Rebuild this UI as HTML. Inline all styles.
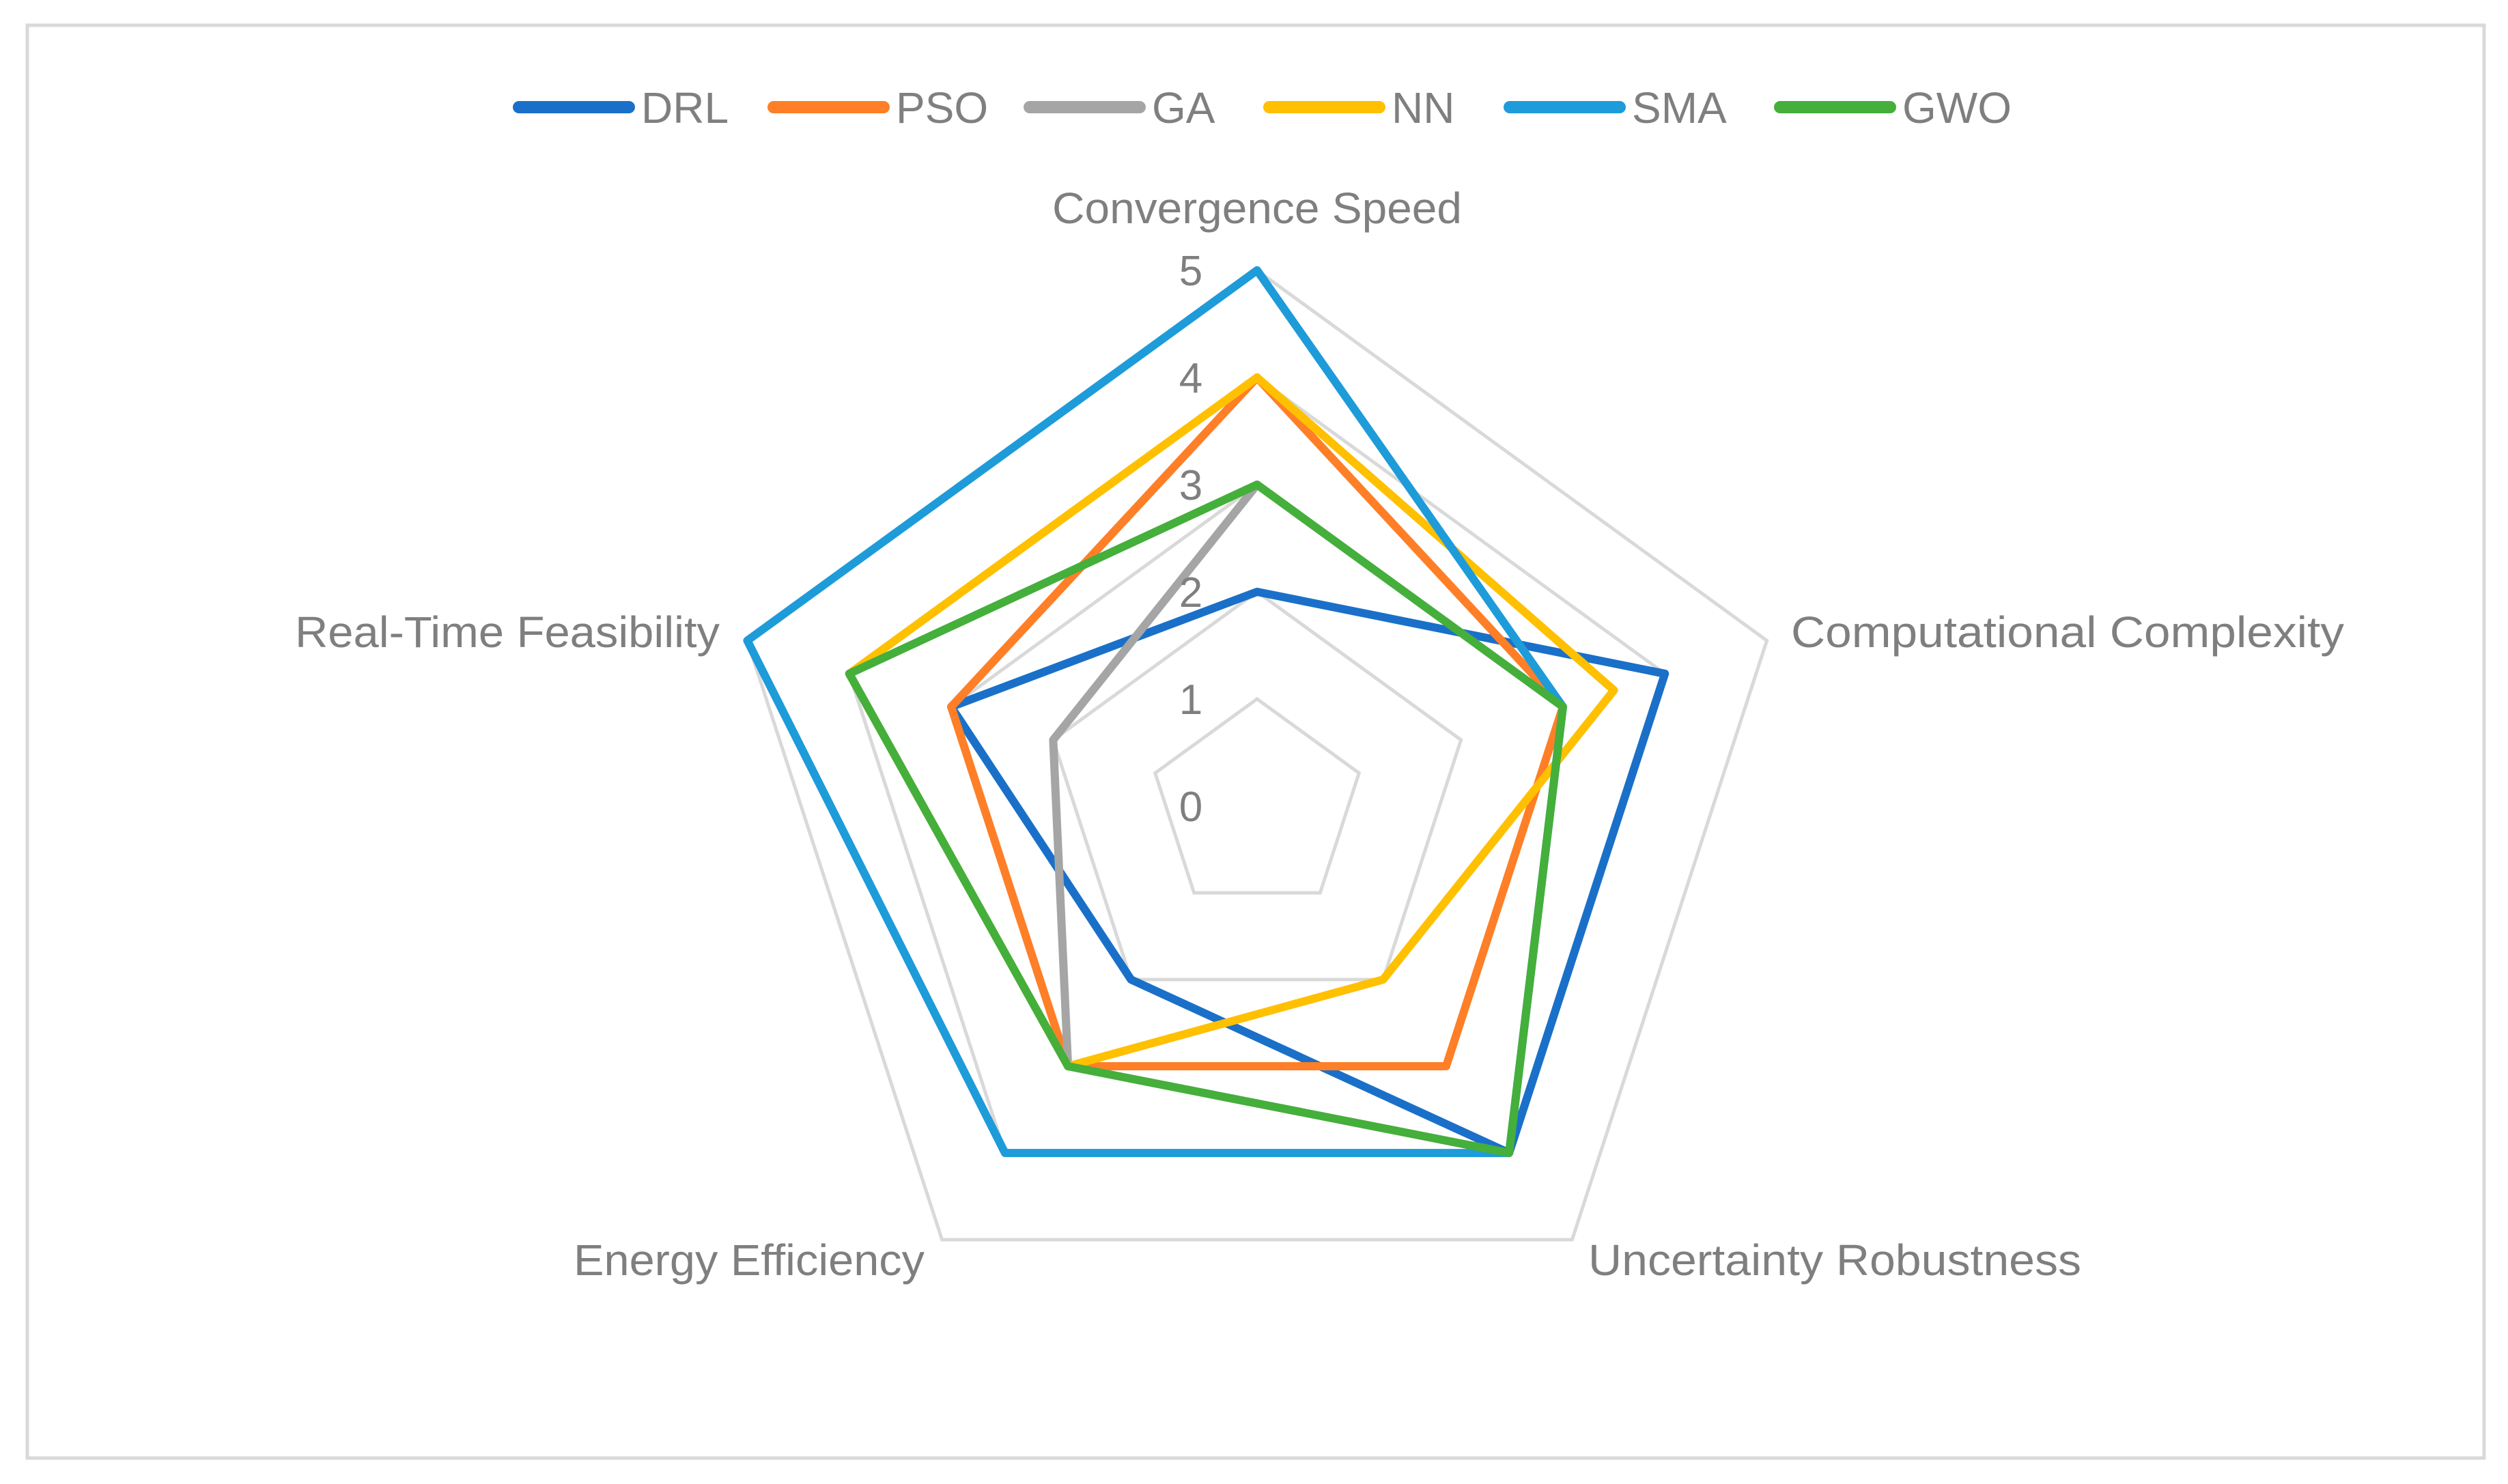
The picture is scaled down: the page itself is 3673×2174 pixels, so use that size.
<!DOCTYPE html>
<html><head><meta charset="utf-8"><style>
html,body{margin:0;padding:0;background:#fff}
svg text{font-family:"Liberation Sans",sans-serif;fill:#7f7f7f}
</style></head><body>
<svg id="chart" width="3673" height="2169" viewBox="0 0 3673 2169" xmlns="http://www.w3.org/2000/svg">
<rect x="40" y="37" width="3598" height="2099" fill="#fff" stroke="#d9d9d9" stroke-width="5"/>
<g id="grid"></g>
<g id="series"></g>
<g id="labels"></g>
<g id="legend"></g>
</svg>
<script>
const categories = ["Convergence Speed","Computational Complexity","Uncertainty Robustness","Energy Efficiency","Real-Time Feasibility"];
const seriesNames = ["DRL","PSO","GA","NN","SMA","GWO"];
const drlValues = [2,4,4,2,3];
const psoValues = [4,3,3,3,3];
const gaValues  = [3,3,4,3,2];
const nnValues  = [4,3.5,2,3,4];
const smaValues = [5,3,4,4,5];
const gwoValues = [3,3,4,3,4];
const tickLabels = ["0","1","2","3","4","5"];

const seriesValues = [drlValues,psoValues,gaValues,nnValues,smaValues,gwoValues];
const colors = ["#1a70c8","#fe7f27","#a5a5a5","#ffc000","#1e9bd9","#44af3b"];
const NS="http://www.w3.org/2000/svg";
const cx=1841, cy=1181, unit=157, maxV=5;
function ang(i){return -Math.PI/2 + i*2*Math.PI/categories.length;}
function pt(i,v){return [cx+Math.cos(ang(i))*v*unit, cy+Math.sin(ang(i))*v*unit];}
function mk(tag,attrs,parent){const e=document.createElementNS(NS,tag);for(const k in attrs)e.setAttribute(k,attrs[k]);parent.appendChild(e);return e;}

const grid=document.getElementById('grid');
for(let l=1;l<=maxV;l++){
  const pts=categories.map((c,i)=>pt(i,l).join(',')).join(' ');
  const p=mk('polygon',{points:pts,fill:'none',stroke:'#d9d9d9','stroke-width':5},grid);
  
  
}
const labels=document.getElementById('labels');
tickLabels.forEach((t,l)=>{
  const e=mk('text',{x:cx-97,y:cy-l*unit+22,'font-size':62,'text-anchor':'middle'},labels);
  e.textContent=t;
  
  
});
const catPos=[[1841,327,'middle',600],[2623,948,'start',810],[2326,1868,'start',722],[1354,1868,'end',514],[1054,948,'end',622]];
categories.forEach((c,i)=>{
  const p=catPos[i];
  const e=mk('text',{x:p[0],y:p[1],'font-size':64,'text-anchor':p[2],textLength:p[3],lengthAdjust:'spacingAndGlyphs'},labels);
  e.textContent=c;
  
  
});
const sg=document.getElementById('series');
seriesValues.forEach((vals,s)=>{
  const pts=vals.map((v,i)=>pt(i,v).join(',')).join(' ');
  const e=mk('polygon',{points:pts,fill:'none',stroke:colors[s],'stroke-width':12,'stroke-linejoin':'round'},sg);
  
  
});
const lg=document.getElementById('legend');
const legX=[751,1124,1499,1850,2202,2598];
seriesNames.forEach((n,s)=>{
  const g=mk('g',{},lg);
  
  
  mk('line',{x1:legX[s]+9,y1:157,x2:legX[s]+170,y2:157,stroke:colors[s],'stroke-width':18,'stroke-linecap':'round'},g);
  const t=mk('text',{x:legX[s]+188,y:180,'font-size':64},g);
  t.textContent=n;
});
</script>
</body></html>
